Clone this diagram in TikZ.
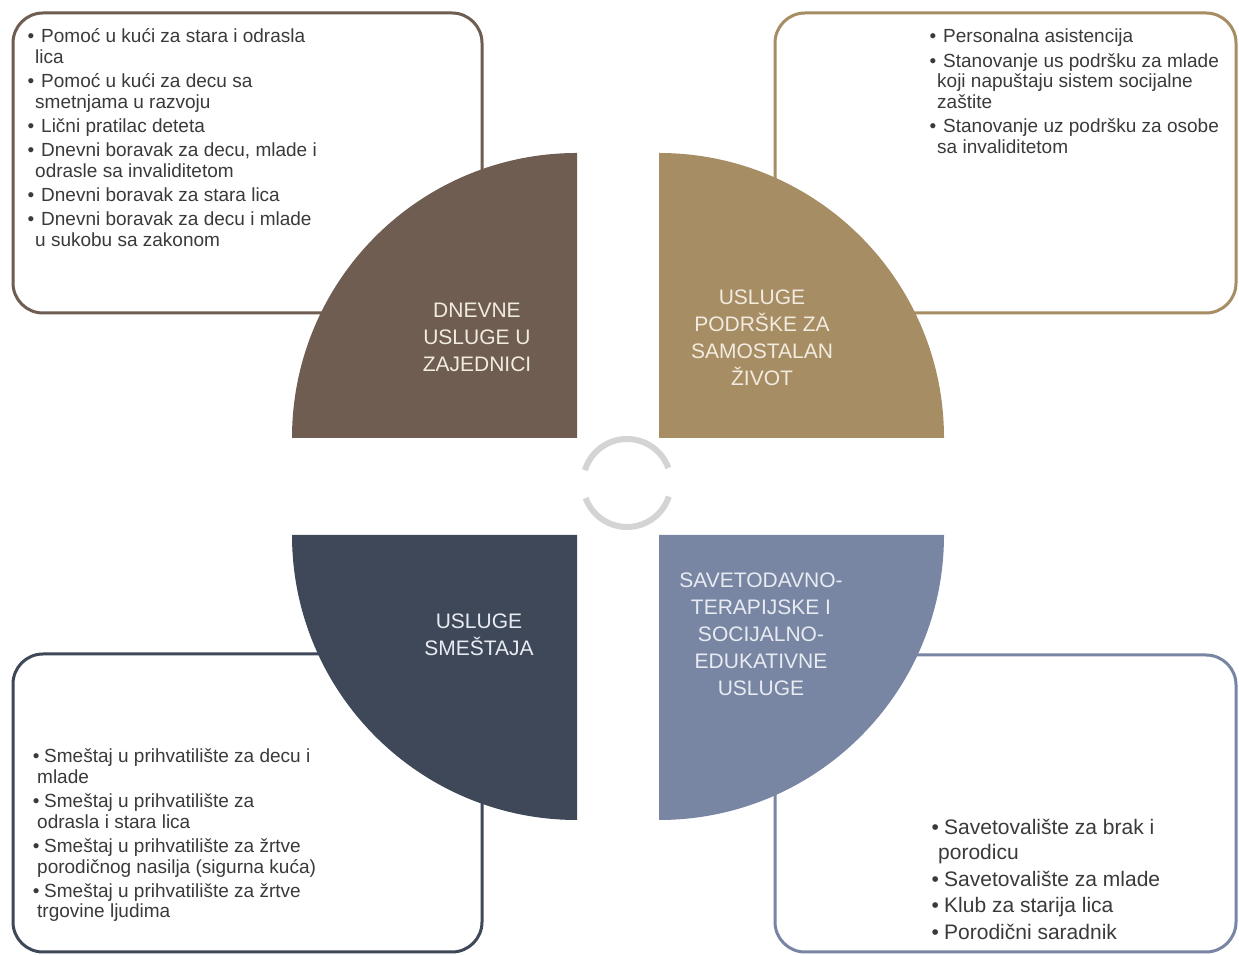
\documentclass[tikz,border=0pt]{standalone}
\usepackage{fontspec}
\setmainfont{Liberation Sans}
\definecolor{cA}{HTML}{6E5D50}
\definecolor{cB}{HTML}{A78D64}
\definecolor{cC}{HTML}{3E4859}
\definecolor{cD}{HTML}{7886A3}
\definecolor{txt}{HTML}{3A3A3A}
\definecolor{lblA}{HTML}{F2EBE0}
\definecolor{lblC}{HTML}{E8ECF2}
\definecolor{arrgray}{HTML}{D4D4D4}
\newcommand\bi[2][7pt]{\hbox{\llap{\textbullet\hspace{#1}}#2}}
\newcommand\ci[2][6pt]{\hbox{\hspace{-#1}#2}}
\newcommand\igap[1][3.8pt]{\vskip #1}
\begin{document}
\begin{tikzpicture}[x=1pt,y=1pt,
  box/.style={draw=#1, line width=3pt, rounded corners=30pt, fill=white, inner sep=0pt},
  sect/.style={fill=#1},
  lbl/.style={font=\fontsize{21}{27}\selectfont, align=center, anchor=north, inner sep=0pt, text=#1},
  body/.style={font=\fontsize{19}{20.5}\selectfont, anchor=base west, inner sep=0pt, text=txt},
  bodyL/.style={font=\fontsize{21}{25}\selectfont, anchor=base west, inner sep=0pt, text=txt},
  cyc/.style={draw=arrgray, line width=6pt}]
\useasboundingbox (0,0) rectangle (1239,955);
\fill[white] (0,0) rectangle (1239,955);

% boxes
\node[box=cA, minimum width=469pt, minimum height=300pt] (boxTL) at (247.5,792) {};
\node[box=cB, minimum width=461pt, minimum height=300pt] (boxTR) at (1005.5,792) {};
\node[box=cC, minimum width=469pt, minimum height=298pt] (boxBL) at (247.5,152) {};
\node[box=cD, minimum width=461pt, minimum height=297pt] (boxBR) at (1005.5,151.5) {};

% box texts
\node[body] (txtTL) at (41,912) {\vtop{%
  \bi{Pomoć u kući za stara i odrasla}\ci{lica}\igap
  \bi{Pomoć u kući za decu sa}\ci{smetnjama u razvoju}\igap
  \bi{Lični pratilac deteta}\igap
  \bi{Dnevni boravak za decu, mlade i}\ci{odrasle sa invaliditetom}\igap
  \bi{Dnevni boravak za stara lica}\igap
  \bi{Dnevni boravak za decu i mlade}\ci{u sukobu sa zakonom}}};

\node[body] (txtTR) at (943,912) {\vtop{%
  \bi{Personalna asistencija}\igap
  \bi{Stanovanje us podršku za mlade}\ci{koji napuštaju sistem socijalne}\ci{zaštite}\igap
  \bi{Stanovanje uz podršku za osobe}\ci{sa invaliditetom}}};

\node[body] (txtBL) at (44,192) {\vtop{%
  \bi[4.7pt]{Smeštaj u prihvatilište za decu i}\ci[7pt]{mlade}\igap
  \bi[4.7pt]{Smeštaj u prihvatilište za}\ci[7pt]{odrasla i stara lica}\igap
  \bi[4.7pt]{Smeštaj u prihvatilište za žrtve}\ci[7pt]{porodičnog nasilja (sigurna kuća)}\igap
  \bi[4.7pt]{Smeštaj u prihvatilište za žrtve}\ci[7pt]{trgovine ljudima}}};

\node[bodyL] (txtBR) at (944,120) {\vtop{%
  \bi[5.3pt]{Savetovalište za brak i}\ci{porodicu}\igap[1.5pt]
  \bi[5.3pt]{Savetovalište za mlade}\igap[1.5pt]
  \bi[5.3pt]{Klub za starija lica}\igap[1.5pt]
  \bi[5.3pt]{Porodični saradnik}}};

% quarter sectors
\fill[sect=cA] (577,517) -- ++(-285,0) arc[start angle=180, end angle=90, radius=285] -- cycle;
\fill[sect=cB] (659,517) -- ++(0,285) arc[start angle=90, end angle=0, radius=285] -- cycle;
\fill[sect=cC] (577,420) -- ++(0,-285) arc[start angle=270, end angle=180, radius=285] -- cycle;
\fill[sect=cD] (659,420) -- ++(285,0) arc[start angle=0, end angle=-90, radius=285] -- cycle;

% sector labels
\node[lbl=lblA] (lblTL) at (477,652) {DNEVNE\\USLUGE U\\ZAJEDNICI};
\node[lbl=lblA] (lblTR) at (762,665) {USLUGE\\PODRŠKE ZA\\SAMOSTALAN\\ŽIVOT};
\node[lbl=lblC] (lblBL) at (479,341) {USLUGE\\SMEŠTAJA};
\node[lbl=lblC] (lblBR) at (761,382) {SAVETODAVNO-\\TERAPIJSKE I\\SOCIJALNO-\\EDUKATIVNE\\USLUGE};

% central cycle arcs
\coordinate (cc) at (627,472);
\draw[cyc] (cc) ++(20:44) arc[start angle=20, end angle=163, radius=44];
\draw[cyc] (cc) ++(200:44) arc[start angle=200, end angle=342, radius=44];
\end{tikzpicture}
\end{document}
